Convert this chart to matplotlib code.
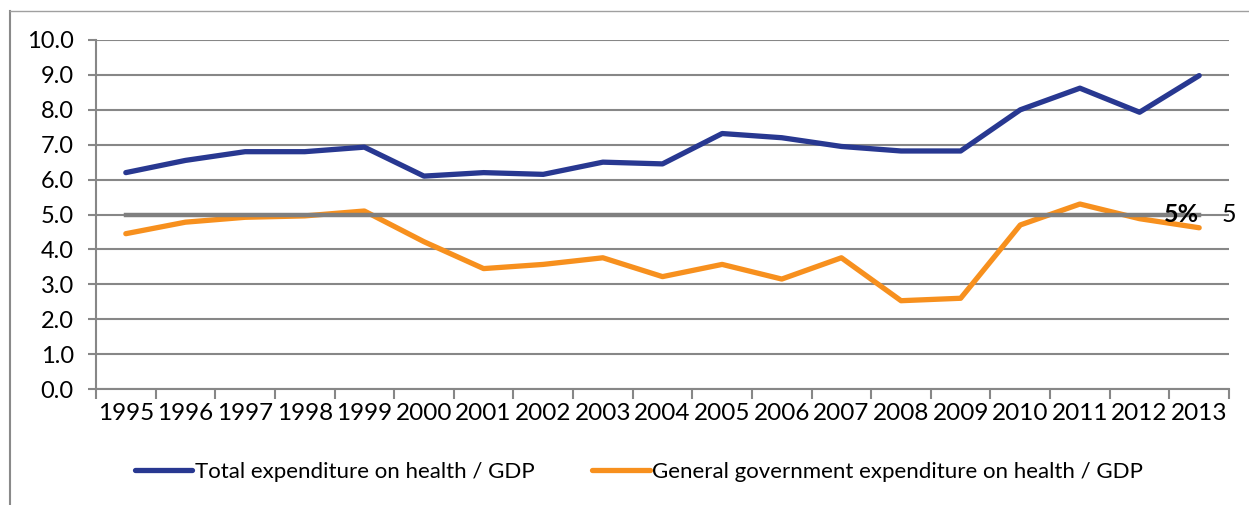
import matplotlib.pyplot as plt
from matplotlib.lines import Line2D

plt.rcParams['font.family'] = ['Lato', 'DejaVu Sans']

years = ['1995', '1996', '1997', '1998', '1999', '2000', '2001', '2002', '2003', '2004',
         '2005', '2006', '2007', '2008', '2009', '2010', '2011', '2012', '2013']
total_exp = [6.2, 6.55, 6.8, 6.8, 6.93, 6.1, 6.2, 6.15, 6.5, 6.45,
             7.32, 7.2, 6.95, 6.82, 6.82, 8.0, 8.62, 7.93, 8.98]
gov_exp = [4.45, 4.78, 4.92, 4.96, 5.1, 4.22, 3.45, 3.57, 3.76, 3.22,
           3.57, 3.15, 3.76, 2.53, 2.6, 4.7, 5.3, 4.88, 4.62]
threshold = [5] * len(years)

blue = '#283891'
orange = '#F7901E'
grey = '#878787'

fig = plt.figure(figsize=(12.49, 5.05), dpi=100)
ax = fig.add_axes([96 / 1249, 1 - 389 / 505, (1229 - 96) / 1249, (389 - 40) / 505])

x = list(range(len(years)))
ax.plot(x, total_exp, color=blue, lw=3.8, solid_capstyle='round', solid_joinstyle='round',
        label='Total expenditure on health / GDP', zorder=3)
ax.plot(x, gov_exp, color=orange, lw=3.8, solid_capstyle='round', solid_joinstyle='round',
        label='General government expenditure on health / GDP', zorder=3)
ax.plot(x, threshold, color='#7f7f7f', lw=3.2, zorder=4)

# labels at the end of the 5% line
ax.text(x[-1], threshold[-1], '5%', ha='right', va='center', fontsize=18,
        fontweight='bold', zorder=5)
ax.text(x[-1] + 0.38, threshold[-1], str(threshold[-1]), ha='left', va='center',
        fontsize=18, zorder=5, clip_on=False)

ax.set_xlim(-0.5, len(years) - 0.5)
ax.set_ylim(0, 10)
ax.set_yticks([i for i in range(11)])
ax.set_yticklabels(['%.1f' % i for i in range(11)], fontsize=17)
ax.set_xticks(x)
ax.set_xticklabels(years, fontsize=17.5)
ax.set_xticks([i - 0.5 for i in range(len(years) + 1)], minor=True)
ax.tick_params(axis='x', which='major', length=0, pad=10)
ax.tick_params(axis='x', which='minor', length=7, width=1.5, color=grey)
ax.tick_params(axis='y', length=6, width=1.5, color=grey, pad=10)

ax.yaxis.grid(True, color=grey, lw=1.5)
ax.set_axisbelow(True)
for side in ['top', 'right']:
    ax.spines[side].set_visible(False)
for side in ['left', 'bottom']:
    ax.spines[side].set_color(grey)
    ax.spines[side].set_linewidth(1.5)

ax.legend(loc='center', bbox_to_anchor=(0.479, -0.238), ncol=2, frameon=False,
          fontsize=16, handlelength=2.6, handletextpad=0.1, columnspacing=2.6)

# outer chart frame
fig.add_artist(Line2D([10 / 1249, 10 / 1249], [0, 1 - 11 / 505], color='#8a8a8a', lw=1.5))
fig.add_artist(Line2D([10 / 1249, 1], [1 - 11 / 505, 1 - 11 / 505], color='#a0a0a0', lw=1))

fig.savefig('out.png', dpi=100)
